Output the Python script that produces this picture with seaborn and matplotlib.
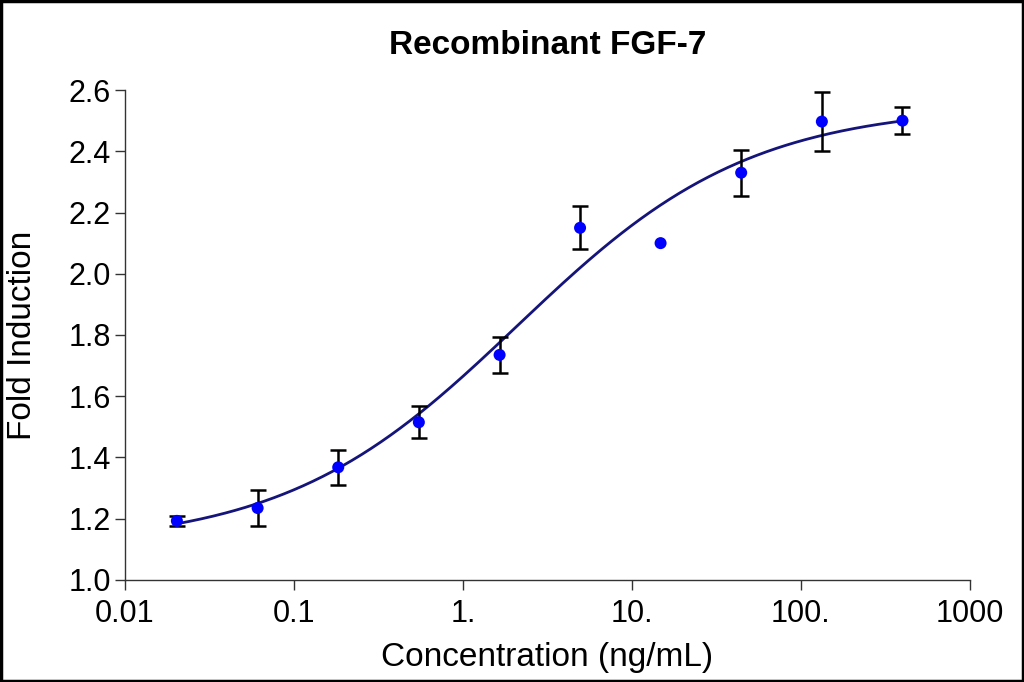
import numpy as np
import pandas as pd
import matplotlib
matplotlib.use("Agg")
import matplotlib.pyplot as plt
import seaborn as sns

# measured points (3-fold dilution series)
conc = [0.0203, 0.061, 0.183, 0.549, 1.65, 4.94, 14.8, 44.4, 133.3, 400.0]
fold = [1.193, 1.235, 1.368, 1.515, 1.735, 2.150, 2.100, 2.330, 2.497, 2.500]
err = [0.016, 0.060, 0.057, 0.052, 0.058, 0.070, 0.0, 0.075, 0.097, 0.044]

# four-parameter logistic fit shown as the curve
fit_bottom = 1.11
fit_top = 2.55
fit_ec50 = 2.1
fit_hill = 0.63

x_ticks = [0.01, 0.1, 1, 10, 100, 1000]
x_ticklabels = ["0.01", "0.1", "1.", "10.", "100.", "1000"]
y_ticks = [1.0, 1.2, 1.4, 1.6, 1.8, 2.0, 2.2, 2.4, 2.6]


def main():
    sns.set_style("ticks")
    plt.rcParams["font.family"] = ["Liberation Sans", "DejaVu Sans"]
    plt.rcParams["text.color"] = "black"
    plt.rcParams["axes.labelcolor"] = "black"
    plt.rcParams["xtick.color"] = "black"
    plt.rcParams["ytick.color"] = "black"

    df = pd.DataFrame({"conc": conc, "fold": fold, "err": err})

    xs = np.logspace(np.log10(conc[0]), np.log10(conc[-1]), 300)
    ys = fit_bottom + (fit_top - fit_bottom) / (1 + (fit_ec50 / xs) ** fit_hill)
    curve = pd.DataFrame({"conc": xs, "fold": ys})

    fig = plt.figure(figsize=(10.24, 6.82), dpi=100)
    ax = fig.add_axes([0.122, 0.1496, 0.825, 0.7184])

    sns.lineplot(data=curve, x="conc", y="fold", ax=ax, color="#14147a", lw=2)
    has_err = df[df["err"] > 0]
    ax.errorbar(has_err["conc"], has_err["fold"], yerr=has_err["err"], fmt="none",
                ecolor="black", elinewidth=1.8, capsize=6, capthick=1.8, zorder=3)
    sns.scatterplot(data=df, x="conc", y="fold", ax=ax, color="#0000ff", s=75,
                    edgecolor="none", zorder=4)

    ax.set_xscale("log")
    ax.set_xlim(0.01, 1000)
    ax.set_ylim(1.0, 2.6)
    ax.set_xticks(x_ticks)
    ax.set_xticklabels(x_ticklabels)
    ax.minorticks_off()
    ax.set_yticks(y_ticks)
    ax.set_yticklabels([f"{v:.1f}" for v in y_ticks])
    ax.tick_params(labelsize=22, length=7, width=1, color="#333333", pad=3)
    ax.tick_params(axis="x", pad=7)
    for side in ["top", "right"]:
        ax.spines[side].set_visible(False)
    for side in ["left", "bottom"]:
        ax.spines[side].set_linewidth(1)
        ax.spines[side].set_color("#333333")

    ax.set_xlabel("Concentration (ng/mL)", fontsize=24, labelpad=9)
    ax.set_ylabel("Fold Induction", fontsize=24, labelpad=22)
    ax.set_title("Recombinant FGF-7", fontsize=24, fontweight="bold", pad=26)

    fig.patches.append(plt.Rectangle((0.001, 0.0015), 0.998, 0.997, transform=fig.transFigure,
                                     fill=False, edgecolor="black", lw=2.5))

    fig.savefig("out.png", dpi=100)


if __name__ == "__main__":
    main()
